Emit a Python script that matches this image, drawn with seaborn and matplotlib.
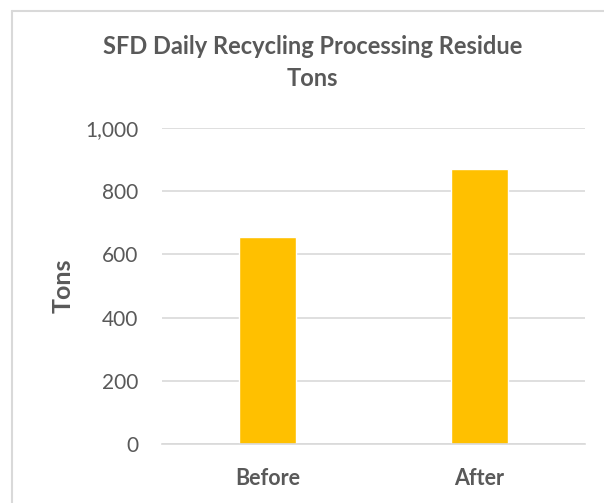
import matplotlib
matplotlib.use("Agg")
import matplotlib.pyplot as plt
import seaborn as sns
import pandas as pd
from matplotlib.ticker import FuncFormatter
from matplotlib.lines import Line2D

sns.set_theme(style="white")
plt.rcParams["font.family"] = ["Lato", "DejaVu Sans"]

# data
periods = ["Before", "After"]
tons = [655, 871]

GRAY = "#595959"
BAR = "#FFC000"

df = pd.DataFrame({"period": periods, "tons": tons})

fig = plt.figure(figsize=(6.04, 5.03), dpi=100)
ax = fig.add_axes([0.2677, 0.1167, 0.7008, 0.6294])

sns.barplot(data=df, x="period", y="tons", color=BAR, width=0.268,
            saturation=1, ax=ax)

ax.set_ylim(0, 1000)
ax.set_xlim(-0.5, 1.5)
ax.set_yticks(range(0, 1001, 200))
ax.yaxis.set_major_formatter(FuncFormatter(lambda v, p: f"{int(v):,}"))
ax.yaxis.grid(True, color="#D9D9D9", linewidth=1.2)
ax.set_axisbelow(True)
for s in ["top", "right", "left"]:
    ax.spines[s].set_visible(False)
ax.spines["bottom"].set_color("#D9D9D9")
ax.spines["bottom"].set_linewidth(1.2)

ax.tick_params(axis="y", colors=GRAY, labelsize=15, length=0, pad=17)
ax.tick_params(axis="x", colors=GRAY, labelsize=15.5, length=0, pad=17)
for lbl in ax.get_xticklabels():
    lbl.set_fontweight("bold")

ax.set_xlabel("")
ax.set_ylabel("Tons", color=GRAY, fontsize=18, fontweight="bold", labelpad=7)

# title, two lines
fig.text(0.517, 1 - 54 / 503, "SFD Daily Recycling Processing Residue",
         ha="center", va="baseline", color=GRAY, fontsize=17, fontweight="bold")
fig.text(0.517, 1 - 86 / 503, "Tons",
         ha="center", va="baseline", color=GRAY, fontsize=17, fontweight="bold")

# chart area border (left and top edges visible)
x0, y0 = 11.5 / 604, 1 - 10.5 / 503
fig.lines.append(Line2D([x0, x0], [0, y0], transform=fig.transFigure,
                        color="#D9D9D9", linewidth=1.5))
fig.lines.append(Line2D([x0, 1], [y0, y0], transform=fig.transFigure,
                        color="#D9D9D9", linewidth=1.5))

fig.savefig("out.png", dpi=100)
